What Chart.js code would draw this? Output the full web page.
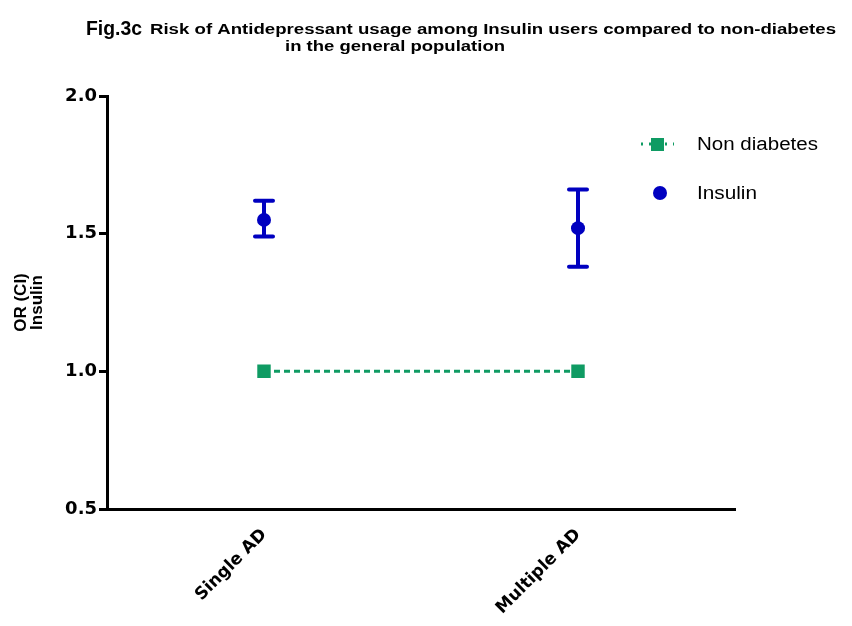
<!DOCTYPE html>
<html>
<head>
<meta charset="utf-8">
<script src="https://cdn.jsdelivr.net/npm/chart.js@4.4.1/dist/chart.umd.min.js"></script>
<style>
  body { margin: 0; background: #fff; }
</style>
</head>
<body>
<canvas id="js--chart" width="852" height="626"></canvas>
<script>
const categories = ["Single AD", "Multiple AD"];
const nonDiabetes = [1.0, 1.0];
const insulinOR = [1.55, 1.52];
const insulinLow = [1.49, 1.38];
const insulinHigh = [1.62, 1.66];

const green = "#0f9b63";
const blue = "#0000c0";

// the original text is a little stretched sideways, so stretch ours to the same width
function stretchedText(ctx, text, x, y, width) {
  const natural = ctx.measureText(text).width;
  ctx.save();
  ctx.translate(x, y);
  ctx.scale(width / natural, 1);
  ctx.fillText(text, 0, 0);
  ctx.restore();
}

// title drawn by hand, because of the mixed sizes on the first line
const titlePlugin = {
  id: "figTitle",
  afterDraw: function (chart) {
    const ctx = chart.ctx;
    ctx.save();
    ctx.fillStyle = "#000";
    ctx.textBaseline = "alphabetic";
    ctx.textAlign = "left";
    ctx.font = "bold 21px 'Liberation Sans', Arial, sans-serif";
    stretchedText(ctx, "Fig.3c", 86, 35, 56);
    ctx.font = "bold 14.5px 'Liberation Sans', Arial, sans-serif";
    stretchedText(ctx, "Risk of Antidepressant usage among Insulin users compared to non-diabetes", 150, 34, 686);
    stretchedText(ctx, "in the general population", 285, 51, 220);
    ctx.restore();
  }
};

const errorBars = {
  id: "errorBars",
  beforeDatasetsDraw: function (chart) {
    const ctx = chart.ctx;
    const x = chart.scales.x;
    const y = chart.scales.y;
    ctx.save();
    ctx.strokeStyle = blue;
    ctx.lineWidth = 4;
    ctx.lineCap = "round";
    for (let i = 0; i < categories.length; i++) {
      const px = x.getPixelForValue(i);
      const top = y.getPixelForValue(insulinHigh[i]);
      const bottom = y.getPixelForValue(insulinLow[i]);
      ctx.beginPath();
      ctx.moveTo(px, top);
      ctx.lineTo(px, bottom);
      ctx.moveTo(px - 9, top);
      ctx.lineTo(px + 9, top);
      ctx.moveTo(px - 9, bottom);
      ctx.lineTo(px + 9, bottom);
      ctx.stroke();
    }
    ctx.restore();
  }
};

const legendPlugin = {
  id: "sideLegend",
  afterDraw: function (chart) {
    const ctx = chart.ctx;
    ctx.save();
    // Non diabetes
    ctx.strokeStyle = green;
    ctx.lineWidth = 3;
    ctx.setLineDash([2, 6]);
    ctx.beginPath();
    ctx.moveTo(641, 144);
    ctx.lineTo(674, 144);
    ctx.stroke();
    ctx.setLineDash([]);
    ctx.fillStyle = green;
    ctx.fillRect(651, 138, 13, 13);
    // Insulin
    ctx.fillStyle = blue;
    ctx.beginPath();
    ctx.arc(660, 193, 7, 0, Math.PI * 2);
    ctx.fill();

    ctx.fillStyle = "#000";
    ctx.textBaseline = "middle";
    ctx.font = "18px 'Liberation Sans', Arial, sans-serif";
    stretchedText(ctx, "Non diabetes", 697, 145, 121);
    stretchedText(ctx, "Insulin", 697, 194, 60);
    ctx.restore();
  }
};

const data = {
  labels: categories,
  datasets: [
    {
      label: "Non diabetes",
      data: nonDiabetes,
      borderColor: green,
      backgroundColor: green,
      borderWidth: 3,
      borderDash: [6, 4],
      pointStyle: "rect",
      pointRadius: 9.5,
      pointBorderWidth: 0,
      pointBackgroundColor: green,
    },
    {
      label: "Insulin",
      data: insulinOR,
      showLine: false,
      borderColor: blue,
      backgroundColor: blue,
      pointStyle: "circle",
      pointRadius: 7,
      pointBorderWidth: 0,
      pointBackgroundColor: blue,
    },
  ],
};

const config = {
  type: "line",
  data: data,
  options: {
    responsive: false,
    animation: false,
    devicePixelRatio: 1,
    layout: { padding: { top: 96, right: 117, left: 0, bottom: 0 } },
    plugins: {
      legend: { display: false },
      tooltip: { enabled: false },
    },
    scales: {
      x: {
        offset: true,
        grid: { display: false },
        border: { display: true, color: "#000", width: 3 },
        ticks: {
          color: "#000",
          minRotation: 45,
          maxRotation: 45,
          padding: 8,
          font: { family: "'DejaVu Sans', sans-serif", size: 17, weight: "bold" },
        },
        afterFit: function (scale) {
          scale.height = 117;
        },
      },
      y: {
        min: 0.5,
        max: 2.0,
        border: { display: true, color: "#000", width: 3 },
        grid: {
          drawOnChartArea: false,
          drawTicks: true,
          tickLength: 8,
          color: "#000",
          lineWidth: 3,
        },
        ticks: {
          stepSize: 0.5,
          color: "#000",
          padding: 2,
          font: { family: "'DejaVu Sans', sans-serif", size: 18, weight: "bold" },
          callback: function (value) {
            return value.toFixed(1);
          },
        },
        title: {
          display: true,
          text: ["OR (CI)", "Insulin"],
          color: "#000",
          padding: { top: 13, bottom: 0 },
          font: { family: "'Liberation Sans', Arial, sans-serif", size: 17, weight: "bold", lineHeight: 0.95 },
        },
        afterFit: function (scale) {
          scale.width = 107;
        },
      },
    },
  },
  plugins: [titlePlugin, errorBars, legendPlugin],
};

new Chart(document.getElementById("js--chart"), config);
</script>
</body>
</html>
